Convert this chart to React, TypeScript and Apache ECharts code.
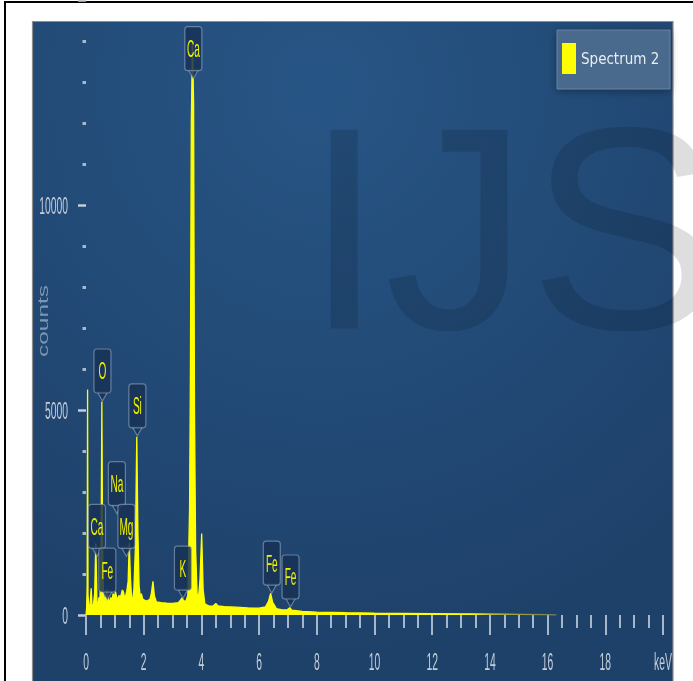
import React, { useEffect, useRef } from "react";
import * as echarts from "echarts";

// Spectrum 2: EDS counts against photon energy (keV)
const energyKeV = [
  0.0, 0.02, 0.04, 0.055, 0.07, 0.1, 0.14, 0.18, 0.21, 0.26, 0.3, 0.34, 0.38, 0.42, 0.45, 0.48,
  0.52, 0.55, 0.58, 0.62, 0.66, 0.7, 0.74, 0.78, 0.82, 0.86, 0.9, 0.94, 0.98, 1.02, 1.06, 1.1,
  1.14, 1.18, 1.22, 1.26, 1.3, 1.34, 1.38, 1.42, 1.46, 1.5, 1.54, 1.58, 1.62, 1.66, 1.71, 1.76,
  1.8, 1.84, 1.88, 1.92, 1.96, 2.02, 2.12, 2.22, 2.27, 2.32, 2.37, 2.44, 2.6, 2.8, 3.0, 3.2,
  3.28, 3.33, 3.38, 3.46, 3.53, 3.59, 3.62, 3.65, 3.69, 3.73, 3.76, 3.8, 3.85, 3.9, 3.95, 4.01,
  4.06, 4.12, 4.25, 4.4, 4.5, 4.58, 4.8, 5.2, 5.6, 6.0, 6.22, 6.33, 6.4, 6.47, 6.6, 6.8,
  6.98, 7.06, 7.14, 7.5, 8.0, 9.0, 10.0, 11.0, 12.0, 13.0, 14.0, 15.0, 16.0, 16.3,
];
const counts = [
  0, 150, 700, 5500, 500, 150, 250, 650, 220, 260, 520, 1750, 320, 260, 430, 320,
  1300, 5200, 1100, 360, 420, 540, 620, 390, 290, 430, 350, 520, 410, 570, 440, 380,
  480, 420, 500, 610, 560, 420, 480, 610, 820, 1750, 900, 430, 380, 620, 1600, 4350,
  2000, 700, 460, 520, 400, 360, 340, 390, 540, 820, 470, 320, 300, 290, 285, 300,
  370, 420, 350, 330, 480, 2600, 6000, 12000, 14000, 12500, 5000, 1600, 520, 430, 850, 1990,
  620, 270, 225, 215, 280, 220, 205, 190, 175, 165, 195, 340, 530, 310, 155, 125,
  130, 175, 118, 88, 68, 55, 46, 40, 34, 28, 24, 16, 9, 2,
];

// Element markers: symbol, energy under the marker tip (keV), height of the tip (counts)
const markerElements = ["Ca", "O", "Si", "Na", "Ca", "Mg", "Fe", "K", "Fe", "Fe"];
const markerEnergies = [3.72, 0.57, 1.78, 1.07, 0.38, 1.4, 0.74, 3.36, 6.44, 7.09];
const markerTipCounts = [13080, 5220, 4370, 2475, 1430, 1430, 365, 410, 535, 195];

// Axis tick labels
const xTickValues = [0, 2, 4, 6, 8, 10, 12, 14, 16, 18, 20];
const xTickLabels = ["0", "2", "4", "6", "8", "10", "12", "14", "16", "18", "keV"];
const yTickValues = [0, 5000, 10000];
const yTickLabels = ["0", "5000", "10000"];

const seriesName = "Spectrum 2";
const yAxisName = "counts";

const SANS = '"Liberation Sans", Arial, sans-serif';
const NARROW = '"Liberation Sans Narrow", "DejaVu Sans Condensed", "Roboto Condensed", "Liberation Sans", sans-serif';

export default function App() {
  const ref = useRef<HTMLDivElement>(null);

  useEffect(() => {
    const el = ref.current;
    if (!el) return;
    const chart = echarts.init(el, null, { renderer: "svg" });

    const seriesData = energyKeV.map((e, i) => [e, counts[i]]);
    const spectrumFill = new echarts.graphic.LinearGradient(0, 0, 1, 0, [
      { offset: 0, color: "#ffff00" },
      { offset: 0.82, color: "#ffff00" },
      { offset: 0.86, color: "#b9b935" },
      { offset: 1, color: "#6f7f58" },
    ]);
    const tickColor = "#a7b7c9";

    chart.setOption({
      animation: false,
      grid: { left: 86, right: 30, top: -3, bottom: 66, containLabel: false },
      xAxis: {
        type: "value",
        min: 0,
        max: 20,
        interval: 2,
        offset: 5,
        axisLine: { show: false },
        axisTick: { show: true, length: 20, lineStyle: { color: tickColor, width: 2 } },
        minorTick: { show: true, splitNumber: 4, length: 13, lineStyle: { color: tickColor, width: 2 } },
        axisLabel: { show: false },
        splitLine: { show: false },
        minorSplitLine: { show: false },
      },
      yAxis: {
        type: "value",
        min: 0,
        max: 15000,
        interval: 5000,
        offset: 6,
        axisLine: { show: false },
        axisTick: { show: true, length: 8, lineStyle: { color: "#c3ccd8", width: 2.5 } },
        minorTick: { show: true, splitNumber: 5, length: 3.5, lineStyle: { color: "#a9b8ca", width: 3 } },
        axisLabel: { show: false },
        splitLine: { show: false },
        minorSplitLine: { show: false },
      },
      legend: {
        left: 562,
        top: 43,
        padding: 0,
        itemWidth: 14,
        itemHeight: 31,
        icon: "rect",
        textStyle: { color: "#e8edf3", fontSize: 15, fontFamily: NARROW },
        data: [{ name: seriesName, icon: "rect", itemStyle: { color: "#ffff00", borderWidth: 0 } }],
        z: 5,
      },
      series: [
        {
          type: "line",
          name: seriesName,
          data: seriesData,
          symbol: "none",
          showSymbol: false,
          clip: false,
          itemStyle: { color: "#ffff00" },
          lineStyle: { width: 1.3, color: spectrumFill },
          areaStyle: { color: spectrumFill, opacity: 1 },
          z: 3,
        },
      ],
    });

    const px = (x: number, y: number) =>
      chart.convertToPixel({ gridIndex: 0 }, [x, y]) as unknown as number[];

    const graphics: any[] = [];

    // outer frame and the plot panel
    graphics.push(
      { type: "rect", shape: { x: 4, y: 1, width: 689, height: 2 }, style: { fill: "#000" }, z: -10 },
      { type: "rect", shape: { x: 4, y: 1, width: 2, height: 680 }, style: { fill: "#000" }, z: -10 },
      {
        type: "rect",
        shape: { x: 32.5, y: 21.5, width: 640.5, height: 670 },
        style: {
          fill: new echarts.graphic.RadialGradient(0.45, 0.1, 0.85, [
            { offset: 0, color: "#275585" },
            { offset: 1, color: "#1e416a" },
          ]),
          stroke: "#8c8c8c",
          lineWidth: 1.2,
        },
        z: -10,
      },
      {
        type: "text",
        x: 304,
        y: 228,
        style: {
          text: "IJS",
          fontSize: 289,
          fontFamily: SANS,
          fill: "rgba(0,0,0,0.13)",
          align: "left",
          verticalAlign: "middle",
        },
        z: -9,
      },
      // legend panel
      {
        type: "rect",
        shape: { x: 557, y: 30, width: 113, height: 59 },
        style: {
          fill: "#4a6a8d",
          stroke: "rgba(125,150,180,0.6)",
          lineWidth: 1,
          shadowBlur: 8,
          shadowColor: "rgba(0,0,0,0.35)",
          shadowOffsetY: 2,
        },
        z: 1,
      }
    );

    // x tick labels
    const base = px(0, 0);
    xTickValues.forEach((v, i) => {
      const p = px(v, 0);
      graphics.push({
        type: "text",
        x: p[0],
        y: base[1] + 47,
        scaleX: 0.45,
        style: {
          text: xTickLabels[i],
          fontSize: 23,
          fontFamily: SANS,
          fill: "#c3cdd8",
          align: "center",
          verticalAlign: "middle",
        },
        z: 5,
      });
    });

    // y tick labels
    yTickValues.forEach((v, i) => {
      const p = px(0, v);
      graphics.push({
        type: "text",
        x: 68,
        y: p[1] + 1,
        scaleX: 0.45,
        style: {
          text: yTickLabels[i],
          fontSize: 23,
          fontFamily: SANS,
          fill: "#c3cdd8",
          align: "right",
          verticalAlign: "middle",
        },
        z: 5,
      });
    });

    // y axis title
    graphics.push({
      type: "text",
      x: 43,
      y: 321,
      rotation: Math.PI / 2,
      scaleX: 1.63,
      style: {
        text: yAxisName,
        fontSize: 15,
        fontFamily: SANS,
        fill: "#7d96b2",
        align: "center",
        verticalAlign: "middle",
      },
      z: 5,
    });

    // element markers
    const boxW = 17;
    const boxH = 44;
    const tipLen = 8;
    markerElements.forEach((name, i) => {
      const tip = px(markerEnergies[i], markerTipCounts[i]);
      const cx = tip[0];
      const bottom = tip[1] - tipLen;
      const top = bottom - boxH;
      graphics.push(
        {
          type: "polygon",
          shape: { points: [[cx - 5, bottom - 1], [cx + 5, bottom - 1], [cx, tip[1]]] },
          style: { fill: "rgba(24,50,86,0.85)", stroke: "rgba(160,180,205,0.55)", lineWidth: 1.2 },
          z: 10,
        },
        {
          type: "rect",
          shape: { x: cx - boxW / 2, y: top, width: boxW, height: boxH, r: 3 },
          style: { fill: "rgba(24,50,86,0.85)", stroke: "rgba(160,180,205,0.55)", lineWidth: 1.2 },
          z: 11,
        },
        {
          type: "text",
          x: cx,
          y: top + boxH / 2,
          scaleX: 0.42,
          style: {
            text: name,
            fontSize: 24,
            fontFamily: SANS,
            fill: "#f2f200",
            align: "center",
            verticalAlign: "middle",
          },
          z: 12,
        }
      );
    });

    chart.setOption({ graphic: { elements: graphics } });

    return () => {
      chart.dispose();
    };
  }, []);

  return (
    <div
      ref={ref}
      style={{ position: "fixed", left: 0, top: 0, width: 693, height: 681 }}
    />
  );
}
